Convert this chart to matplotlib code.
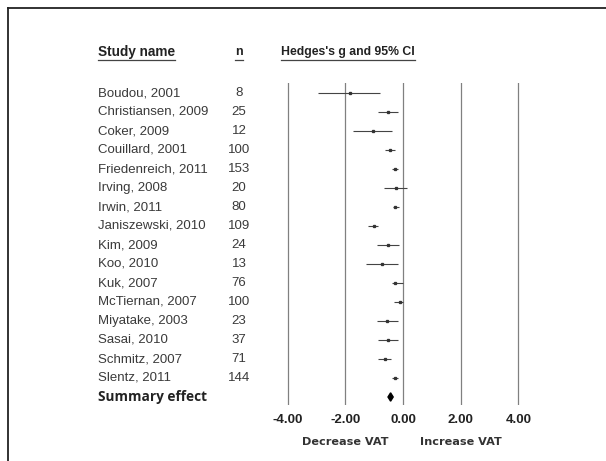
import numpy as np
import matplotlib.pyplot as plt
from matplotlib.patches import Polygon
from matplotlib.lines import Line2D
from matplotlib.transforms import blended_transform_factory

# Datos
estudios = ["Boudou, 2001", "Christiansen, 2009", "Coker, 2009", "Couillard, 2001",
            "Friedenreich, 2011", "Irving, 2008", "Irwin, 2011", "Janiszewski, 2010",
            "Kim, 2009", "Koo, 2010", "Kuk, 2007", "McTiernan, 2007",
            "Miyatake, 2003", "Sasai, 2010", "Schmitz, 2007", "Slentz, 2011"]
n = [8, 25, 12, 100, 153, 20, 80, 109, 24, 13, 76, 100, 23, 37, 71, 144]
g = [-1.84, -0.52, -1.04, -0.45, -0.28, -0.24, -0.27, -1.02,
     -0.53, -0.74, -0.28, -0.12, -0.55, -0.53, -0.62, -0.28]
ci_bajo = [-2.95, -0.87, -1.74, -0.62, -0.39, -0.65, -0.35, -1.20,
           -0.91, -1.28, -0.39, -0.30, -0.91, -0.87, -0.88, -0.39]
ci_alto = [-0.80, -0.17, -0.39, -0.27, -0.16, 0.15, -0.15, -0.87,
           -0.13, -0.18, 0.01, 0.00, -0.16, -0.16, -0.42, -0.16]
resumen = (-0.43, -0.52, -0.34)
ticks = [-4, -2, 0, 2, 4]

W, H = 606, 461
fig = plt.figure(figsize=(W / 100, H / 100), dpi=100)

# Ejes del forest plot en píxeles
x0, x1 = 260, 560
y_top, y_bot = 83, 405
ax = fig.add_axes([x0 / W, 1 - y_bot / H, (x1 - x0) / W, (y_bot - y_top) / H])
px_unidad = 28.85
ax.set_xlim((x0 - 403) / px_unidad, (x1 - 403) / px_unidad)
fila0, paso = 93, 19
ax.set_ylim((y_bot - fila0) / paso, (y_top - fila0) / paso)
ax.axis("off")

for t in ticks:
    ax.axvline(t, color="#808080", lw=0.9)

filas = np.arange(len(estudios))
ax.hlines(filas, ci_bajo, ci_alto, color="#444444", lw=0.8)
ax.plot(g, filas, "s", color="#333333", markersize=1.4)

# Efecto resumen (diamante)
yr = len(estudios)
ax.add_patch(Polygon([[resumen[1], yr], [resumen[0], yr - 0.22],
                      [resumen[2], yr], [resumen[0], yr + 0.22]],
                     closed=True, color="black"))

fuente = ["Liberation Sans", "DejaVu Sans"]
trans_filas = blended_transform_factory(fig.transFigure, ax.transData)
for i, (nombre, ni) in enumerate(zip(estudios, n)):
    ax.text(98 / W, i, nombre, transform=trans_filas, fontsize=9.5,
            family=fuente, color="#3a3a3a", va="center", ha="left")
    ax.text(239 / W, i, str(ni), transform=trans_filas, fontsize=9.5,
            family=fuente, color="#3a3a3a", va="center", ha="center")
ax.text(98 / W, yr, "Summary effect", transform=trans_filas, fontsize=9.8,
        family=["Open Sans", "DejaVu Sans"], weight="bold", color="#222222",
        va="center", ha="left")

# Etiquetas del eje
trans_ticks = blended_transform_factory(ax.transData, fig.transFigure)
for t in ticks:
    ax.text(t, 1 - 420 / H, f"{t:.2f}", transform=trans_ticks, fontsize=9.5,
            family=fuente, weight="bold", color="#222222", ha="center", va="center")
ax.text(-2, 1 - 442 / H, "Decrease VAT", transform=trans_ticks, fontsize=8.1,
        family=["DejaVu Sans"], weight="bold", color="#333333", ha="center", va="center")
ax.text(2, 1 - 442 / H, "Increase VAT", transform=trans_ticks, fontsize=8.1,
        family=["DejaVu Sans"], weight="bold", color="#333333", ha="center", va="center")

# Encabezados subrayados
encabezados = [("Study name", 98, "left", 9.8), ("n", 239, "center", 9.0),
               ("Hedges's g and 95% CI", 348, "center", 8.8)]
renderer = fig.canvas.get_renderer()
for texto, xp, ha, tam in encabezados:
    txt = fig.text(xp / W, 1 - 52 / H, texto, fontsize=tam, family=fuente,
                   weight="bold", color="#222222", ha=ha, va="center")
    bb = txt.get_window_extent(renderer)
    fig.add_artist(Line2D([bb.x0 / W, bb.x1 / W], [1 - 60 / H, 1 - 60 / H],
                          color="#444444", lw=0.9))

# Marco de la imagen
fig.add_artist(Line2D([8 / W, 1], [1 - 8 / H, 1 - 8 / H], color="#222222", lw=1.3))
fig.add_artist(Line2D([8 / W, 8 / W], [0, 1 - 8 / H], color="#222222", lw=1.3))

fig.savefig("out.png", dpi=100)
